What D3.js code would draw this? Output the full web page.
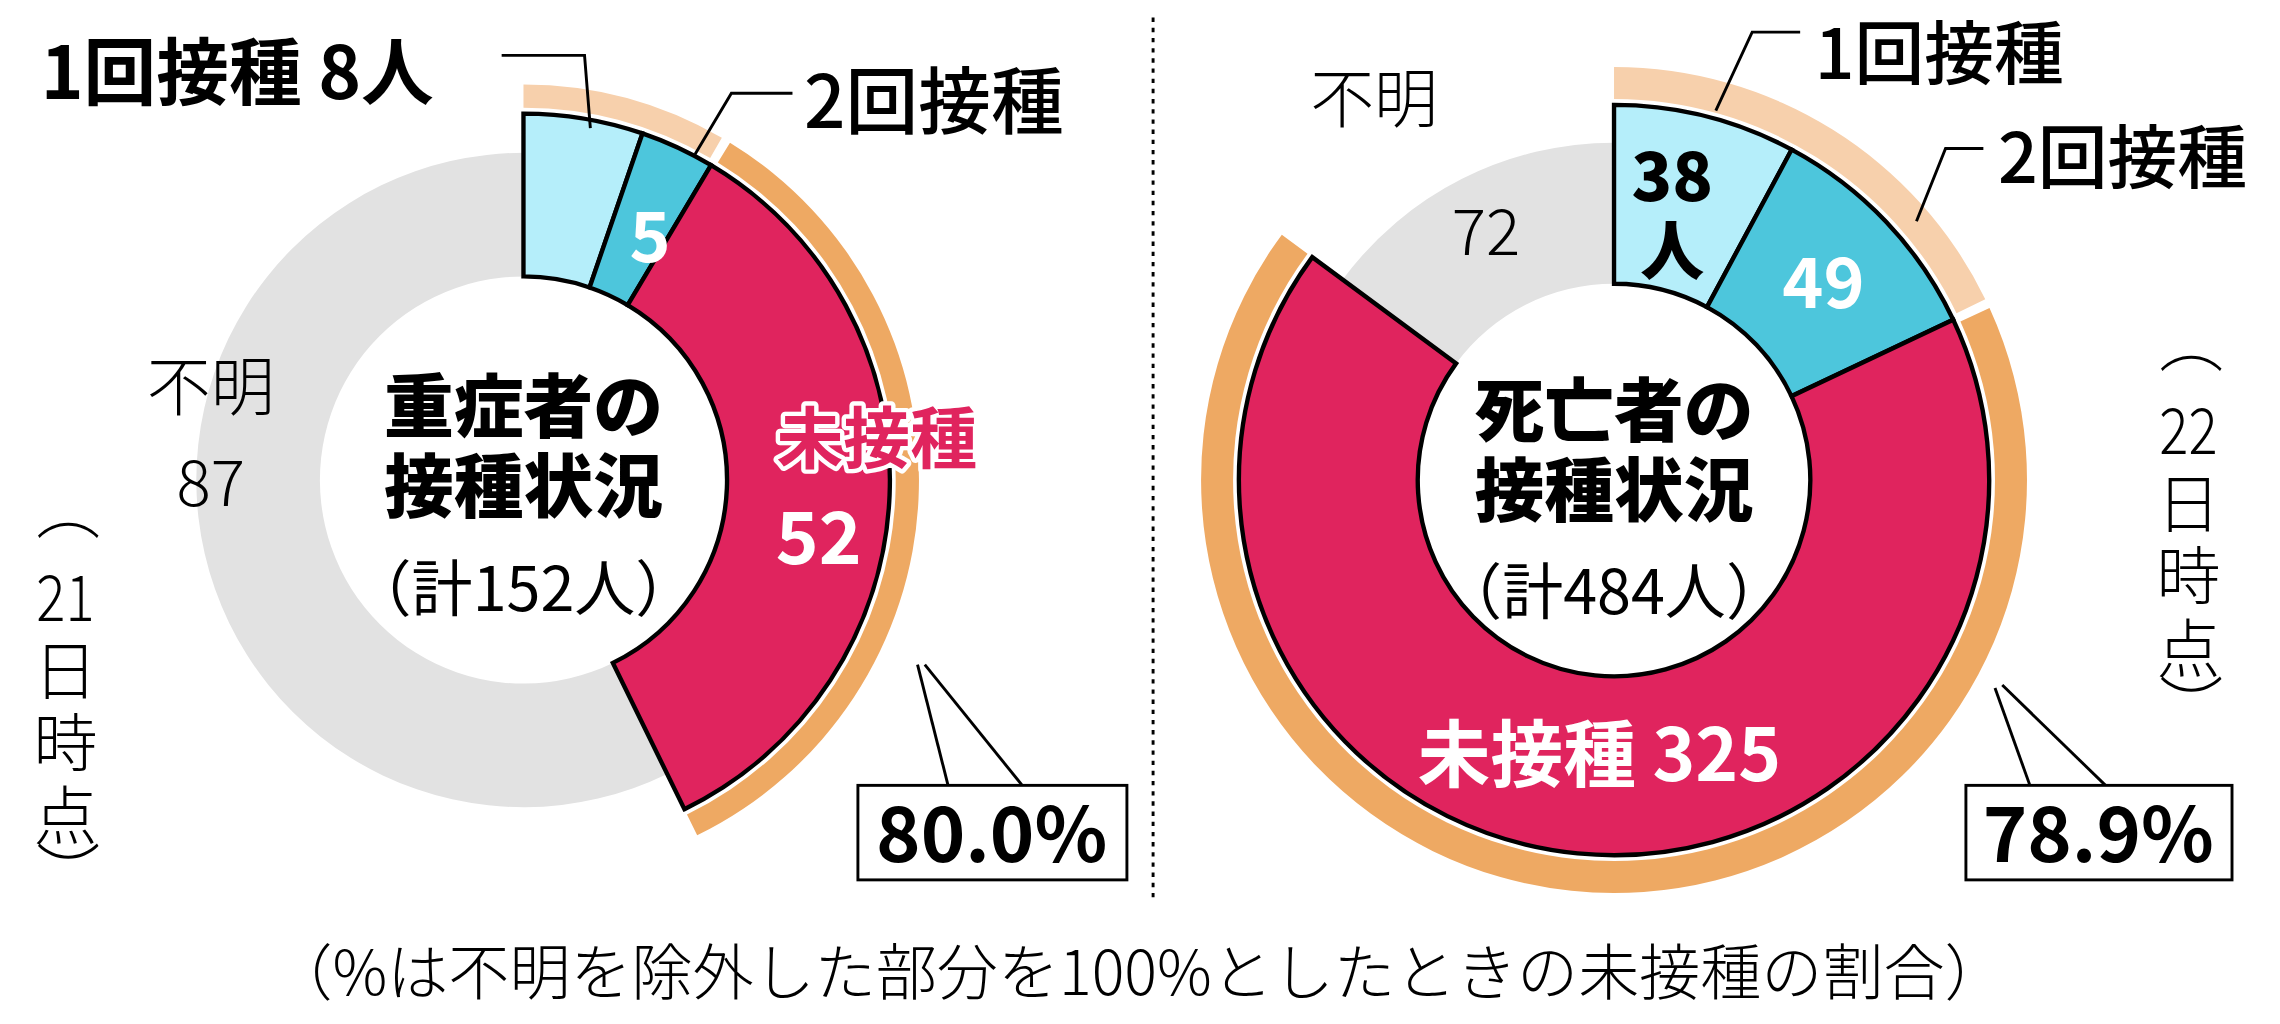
<!DOCTYPE html>
<html><head><meta charset="utf-8">
<script src="https://cdn.jsdelivr.net/npm/d3@7"></script>
<style>body{margin:0;background:#fff}</style>
</head><body>
<svg id="c" width="2280" height="1024" viewBox="0 0 1568 704"></svg>
<script>
// categories in drawing order (clockwise from 12 o'clock)
var categories = ["1回接種", "2回接種", "未接種", "不明"];
var severeValues = [8, 5, 52, 87];
var deathValues = [38, 49, 325, 72];
var shareLabels = ["80.0%", "78.9%"];
var totals = [152, 484];
var dates = ["21", "22"];

var colors = ["#b5eefa", "#4dc6dc", "#e0245e", "#e2e2e2"];
var JP = "'Noto Sans CJK JP', sans-serif";
var svg = d3.select("#c");

function donut(cx, cy, values, rOut, rGray, rIn, band) {
	var g = svg.append("g").attr("transform", "translate(" + cx + "," + cy + ")");
	var arcs = d3.pie().sort(null).value(function(d){ return d; })(values);
	var arc = d3.arc();
	g.append("path").attr("d", arc({innerRadius: rIn, outerRadius: rGray, startAngle: arcs[3].startAngle, endAngle: arcs[3].endAngle}))
		.attr("fill", colors[3]);
	for (var i = 0; i < 3; i++) {
		g.append("path").attr("d", arc({innerRadius: rIn, outerRadius: rOut, startAngle: arcs[i].startAngle, endAngle: arcs[i].endAngle}))
			.attr("fill", colors[i]).attr("stroke", "#000").attr("stroke-width", 3);
	}
	// outer bands: vaccinated (peach) and unvaccinated (orange)
	g.append("path").attr("d", arc({innerRadius: band[0], outerRadius: band[1], startAngle: 0, endAngle: arcs[1].endAngle - 0.012}))
		.attr("fill", "#f7d0ac");
	g.append("path").attr("d", arc({innerRadius: band[0], outerRadius: band[1], startAngle: arcs[2].startAngle + 0.012, endAngle: arcs[2].endAngle}))
		.attr("fill", "#eea963");
}

function txt(x, y, s, size, weight, fill, anchor) {
	return svg.append("text").attr("x", x).attr("y", y).text(s)
		.attr("font-family", JP).attr("font-size", size).attr("font-weight", weight || 400)
		.attr("fill", fill || "#000").attr("text-anchor", anchor || "middle");
}
function line(pts) {
	svg.append("path").attr("d", d3.line()(pts)).attr("fill", "none").attr("stroke", "#000").attr("stroke-width", 2);
}
// vertical date note: （NN日時点）
function vdate(x, y, d) {
	txt(x, y, "（", 44, 300).attr("transform", "rotate(90," + x + "," + (y - 15) + ")");
	txt(x, y + 62, d, 44, 300).attr("textLength", 40).attr("lengthAdjust", "spacingAndGlyphs");
	txt(x, y + 112, "日", 44, 300);
	txt(x, y + 162, "時", 44, 300);
	txt(x, y + 212, "点", 44, 300);
	txt(x, y + 250, "）", 44, 300).attr("transform", "rotate(90," + x + "," + (y + 235) + ")");
}

// left
donut(360, 330, severeValues, 252, 225, 140, [256, 272]);
txt(28, 68, categories[0] + " " + severeValues[0] + "人", 50, 700, "#000", "start");
line([[345, 38], [402, 38], [406, 88]]);
txt(553, 88, categories[1], 50, 500, "#000", "start");
line([[545, 64], [503, 64], [478, 106]]);
txt(447, 180, severeValues[1], 48, 700, "#fff");
svg.append("text").attr("x", 603).attr("y", 318).text(categories[2])
	.attr("font-family", JP).attr("font-size", 46).attr("font-weight", 700).attr("text-anchor", "middle")
	.attr("fill", "#e0245e").attr("stroke", "#fff").attr("stroke-width", 6).attr("stroke-linejoin", "round").attr("paint-order", "stroke");
txt(563, 388, severeValues[2], 50, 700, "#fff");
txt(360, 297, "重症者の", 48, 900);
txt(360, 352, "接種状況", 48, 900);
txt(360, 420, "（計" + totals[0] + "人）", 42, 400);
txt(145, 282, categories[3], 44, 300);
txt(145, 348, severeValues[3], 44, 300);
vdate(45, 365, dates[0]);
line([[631, 457], [652, 540]]);
line([[636, 457], [703, 540]]);
svg.append("rect").attr("x", 590).attr("y", 540).attr("width", 185).attr("height", 65).attr("fill", "#fff").attr("stroke", "#000").attr("stroke-width", 2);
txt(682, 593, shareLabels[0], 52, 700);

// divider
svg.append("line").attr("x1", 793).attr("x2", 793).attr("y1", 12).attr("y2", 620)
	.attr("stroke", "#000").attr("stroke-width", 2).attr("stroke-dasharray", "3,4");

// right
donut(1110, 330, deathValues, 258, 232, 135, [262, 284]);
txt(945, 84, categories[3], 44, 300);
txt(1022, 175, deathValues[3], 44, 300);
txt(1248, 54, categories[0], 48, 500, "#000", "start");
line([[1238, 22], [1205, 22], [1180, 76]]);
txt(1374, 126, categories[1], 48, 500, "#000", "start");
line([[1364, 102], [1338, 102], [1318, 152]]);
txt(1150, 138, deathValues[0], 46, 900);
txt(1150, 188, "人", 44, 900);
txt(1254, 212, deathValues[1], 48, 700, "#fff");
txt(1100, 537, categories[2] + " " + deathValues[2], 50, 700, "#fff");
txt(1110, 300, "死亡者の", 48, 900);
txt(1110, 355, "接種状況", 48, 900);
txt(1110, 422, "（計" + totals[1] + "人）", 42, 400);
vdate(1505, 250, dates[1]);
line([[1372, 473], [1396, 540]]);
line([[1377, 471], [1448, 540]]);
svg.append("rect").attr("x", 1352).attr("y", 540).attr("width", 183).attr("height", 65).attr("fill", "#fff").attr("stroke", "#000").attr("stroke-width", 2);
txt(1443, 593, shareLabels[1], 52, 700);

txt(783, 684, "（%は不明を除外した部分を100%としたときの未接種の割合）", 42, 300);
</script>
</body></html>
